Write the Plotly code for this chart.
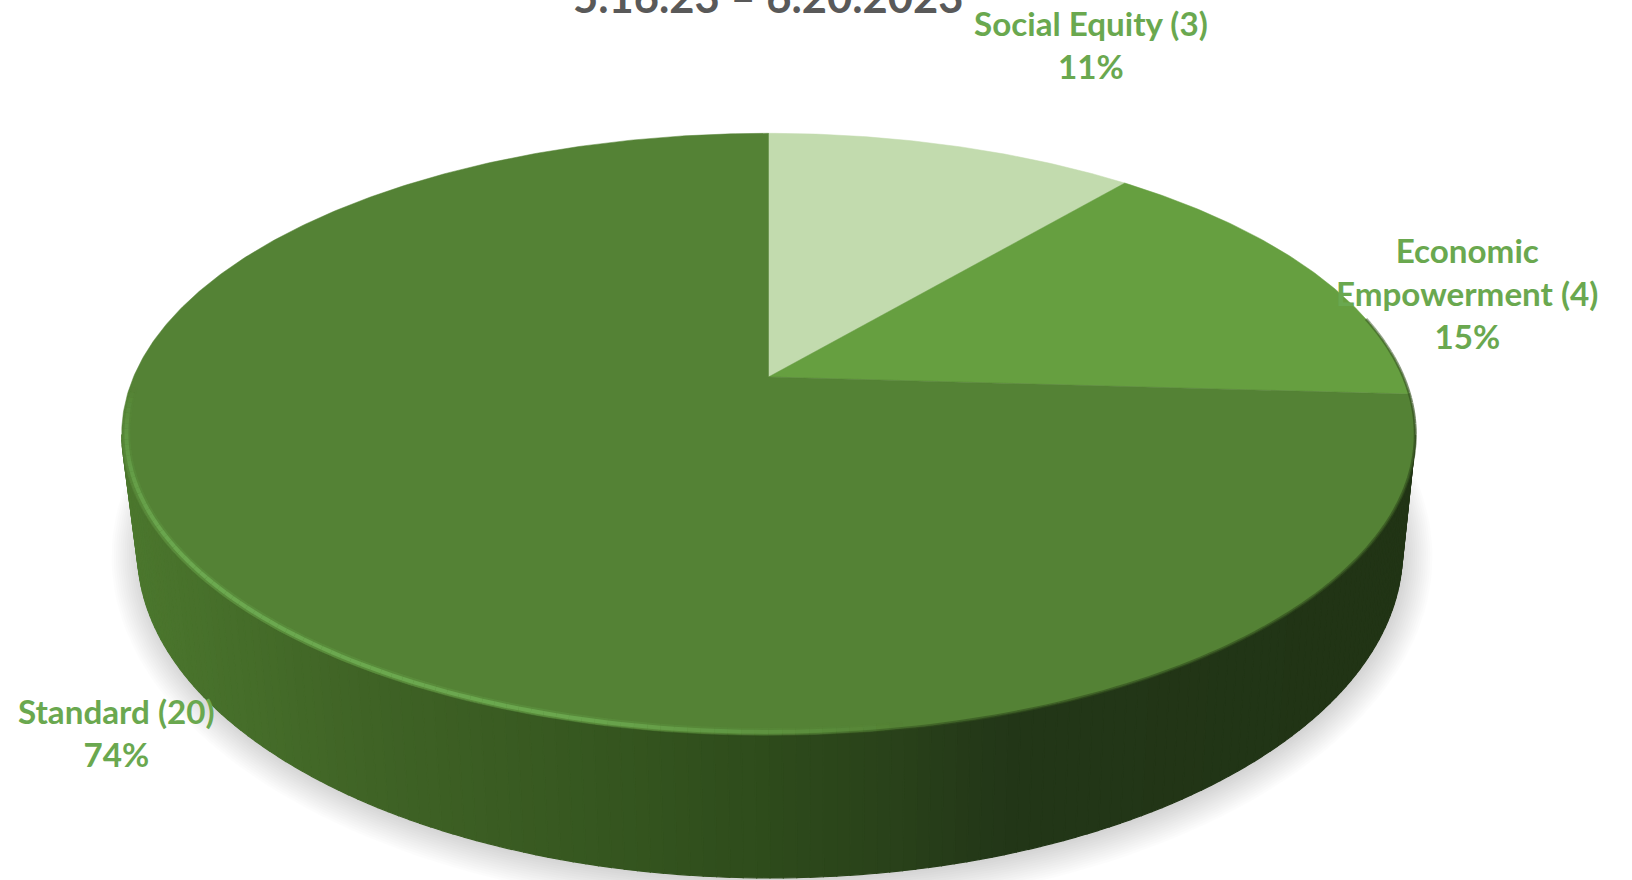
import numpy as np
import plotly.graph_objects as go

# ---- data ----
categories = ["Social Equity (3)", "Economic<br>Empowerment (4)", "Standard (20)"]
counts = [3, 4, 20]
percents = ["11%", "15%", "74%"]
slice_colors = ["#c2dbae", "#669f40", "#548235"]
title_text = "5.16.23 – 6.20.2023"

WALL_STOPS_X = [123, 360, 600, 750, 900, 1000, 1420]
WALL_STOPS_RGB = [(76, 120, 46), (64, 100, 38), (54, 87, 32), (47, 77, 28), (41, 65, 26), (35, 55, 24), (33, 52, 21)]

LABEL_COLOR = "#6aa84f"
TITLE_COLOR = "#595959"
FONT = "Lato"

# ---- tilted-disc projection (perspective of a circle) ----
AX, AY, K, A, B = 768.5, 377.0, 0.19, 635.0, 290.0
CY_TOP = 434.0
CX_BOT, CY_BOT, SX, SY = 770.0, 551.0, 0.978, 1.086


def top(theta_deg, r=1.0):
    t = np.radians(np.asarray(theta_deg, dtype=float))
    u, v = r * np.sin(t), r * np.cos(t)
    d = 1 + K * v
    return AX + A * u / d, AY - B * v / d


def bottom(theta_deg):
    x, y = top(theta_deg)
    return CX_BOT + (x - AX) * SX, CY_BOT + (y - CY_TOP) * SY


def poly(x, y, color, width=0.8):
    return go.Scatter(x=list(x), y=list(y), mode="lines", fill="toself", fillcolor=color,
                      line=dict(color=color, width=width), hoverinfo="skip", showlegend=False)


def stroke(x, y, color, width):
    return go.Scatter(x=x, y=y, mode="lines", line=dict(color=color, width=width),
                      hoverinfo="skip", showlegend=False)


fig = go.Figure()

# soft drop shadow
all_t = np.linspace(0, 360, 241)
bx, by = bottom(all_t)
cxb, cyb = bx.mean(), by.mean()
N_SHADOW = 14
for i in range(N_SHADOW):
    g = 28 * (1 - i / (N_SHADOW - 1))
    sx_ = cxb + 2 + (bx - cxb) * (1 + g / 632)
    sy_ = cyb + 3 + (by - cyb) * (1 + g / 329)
    fig.add_trace(go.Scatter(x=sx_, y=sy_, mode="lines", fill="toself",
                             fillcolor="rgba(0,0,0,0.011)", line=dict(width=0),
                             hoverinfo="skip", showlegend=False))

# side wall, shaded in narrow quads
edges = np.linspace(101, 259, 159)
for t0, t1 in zip(edges[:-1], edges[1:]):
    px, py = top([t0, t1])
    qx, qy = bottom([t0, t1])
    xm = (px.mean() + qx.mean()) / 2
    rgb = [np.interp(xm, WALL_STOPS_X, [c[i] for c in WALL_STOPS_RGB]) for i in range(3)]
    col = "rgb(%d,%d,%d)" % tuple(rgb)
    fig.add_trace(poly([px[0], px[1], qx[1], qx[0], px[0]], [py[0], py[1], qy[1], qy[0], py[0]], col, 1.2))

# top face slices
total = sum(counts)
start = 0.0
for val, col in zip(counts, slice_colors):
    end = start + val / total * 360
    ts = np.linspace(start, end, max(int(end - start) * 2, 8))
    x, y = top(ts)
    fig.add_trace(poly(np.r_[AX, x, AX], np.r_[AY, y, AY], col, 0.5))
    start = end

# rim: soft dark blend on the right, soft highlight on the left
rim = np.linspace(78, 268, 191)
for t0, t1 in zip(rim[:-1], rim[1:]):
    tm = (t0 + t1) / 2
    x, y = top([t0, t1], 1.0)
    d = np.interp(tm, [78, 100, 165, 190], [0.5, 0.7, 0.6, 0.0])
    if d > 0:
        fig.add_trace(stroke(x, y, "rgba(50,78,30,%.3f)" % d, 3))
    a = np.interp(tm, [170, 195, 235, 258, 268], [0.0, 0.85, 0.9, 0.45, 0.0])
    if a > 0:
        x, y = top([t0, t1], 0.993)
        fig.add_trace(stroke(x, y, "rgba(100,160,72,%.3f)" % (a * 0.4), 8))
        fig.add_trace(stroke(x, y, "rgba(110,172,82,%.3f)" % a, 4))

# text
label_pos = [(1091, 44), (1467, 293), (116, 732)]
for cat, pct, (lx, ly) in zip(categories, percents, label_pos):
    fig.add_annotation(x=lx, y=ly, xref="x", yref="y", text="<b>%s<br>%s</b>" % (cat, pct),
                       showarrow=False, align="center", xanchor="center", yanchor="middle",
                       font=dict(family=FONT, size=33.2, color=LABEL_COLOR))
fig.add_annotation(x=768, xref="x", y=1, yref="paper", yshift=4, text="<b>%s</b>" % title_text,
                   showarrow=False, xanchor="center", yanchor="middle",
                   font=dict(family=FONT, size=43.5, color=TITLE_COLOR))

fig.update_layout(width=1632, height=880, margin=dict(l=0, r=0, t=0, b=0),
                  paper_bgcolor="white", plot_bgcolor="white", showlegend=False,
                  xaxis=dict(range=[0, 1632], visible=False, fixedrange=True),
                  yaxis=dict(range=[880, 0], visible=False, fixedrange=True))

fig.write_html("out.html", post_script="document.body.style.margin='0';document.body.style.overflow='hidden';",
               config={"displayModeBar": False})
